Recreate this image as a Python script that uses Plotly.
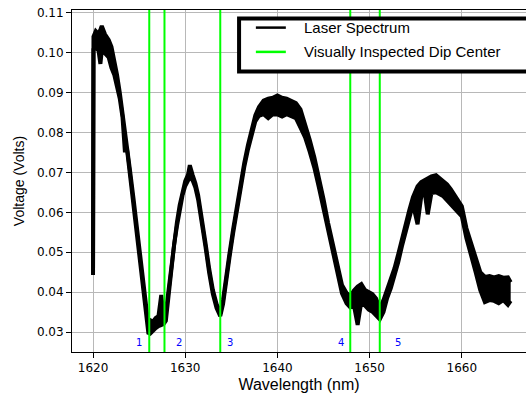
import plotly.graph_objects as go

# ---------------- data ----------------
wavelength = [1620.00, 1620.05, 1620.3, 1620.6, 1620.8, 1620.95, 1621.3, 1621.7, 1622.0, 1622.3,
              1622.6, 1622.9, 1623.2, 1623.45, 1623.7, 1624.0, 1624.4, 1624.8, 1625.2, 1625.5,
              1625.8, 1626.0, 1626.2, 1626.5, 1626.8, 1627.1, 1627.4, 1627.65, 1627.9, 1628.2,
              1628.5, 1628.8, 1629.1, 1629.4, 1629.7, 1630.0, 1630.3, 1630.5, 1630.8, 1631.1,
              1631.4, 1631.8, 1632.2, 1632.6, 1633.0, 1633.4, 1633.8, 1634.1, 1634.4, 1634.8,
              1635.2, 1635.6, 1636.0, 1636.4, 1636.8, 1637.2, 1637.6, 1638.0, 1638.5, 1639.0,
              1639.5, 1640.0, 1640.5, 1641.0, 1641.5, 1642.0, 1642.5, 1643.0, 1643.5, 1644.0,
              1644.5, 1645.0, 1645.5, 1646.0, 1646.5, 1647.0, 1647.5, 1647.9, 1648.3, 1648.7,
              1649.1, 1649.5, 1649.9, 1650.3, 1650.7, 1651.1, 1651.5, 1651.9, 1652.3, 1652.7,
              1653.1, 1653.5, 1653.9, 1654.3, 1654.7, 1655.2, 1655.6, 1656.0, 1656.3, 1656.7,
              1657.2, 1657.6, 1658.0, 1658.4, 1658.8, 1659.2, 1659.6, 1660.0, 1660.5, 1661.0,
              1661.5, 1662.0, 1662.5, 1663.0, 1663.5, 1664.0, 1664.5, 1665.0, 1665.3]

# upper and lower edge of the noisy voltage trace (Volts)
voltage_upper = [0.0445, 0.1040, 0.1054, 0.1047, 0.1058, 0.1067, 0.1046, 0.1032, 0.1015, 0.0982,
                 0.0945, 0.0900, 0.0850, 0.0805, 0.0768, 0.0707, 0.0633, 0.0553, 0.0477, 0.0408,
                 0.0350, 0.0318, 0.0330, 0.0326, 0.0335, 0.0340, 0.0393, 0.0345, 0.0350, 0.0410,
                 0.0475, 0.0530, 0.0575, 0.0618, 0.0652, 0.0678, 0.0694, 0.0718, 0.0694, 0.0673,
                 0.0643, 0.0588, 0.0523, 0.0458, 0.0405, 0.0370, 0.0347, 0.0380, 0.0435, 0.0497,
                 0.0558, 0.0618, 0.0673, 0.0723, 0.0768, 0.0808, 0.0843, 0.0864, 0.0880, 0.0885,
                 0.0887, 0.0893, 0.0887, 0.0885, 0.0880, 0.0874, 0.0858, 0.0822, 0.0782, 0.0738,
                 0.0688, 0.0633, 0.0573, 0.0518, 0.0463, 0.0418, 0.0398, 0.0390, 0.0404, 0.0414,
                 0.0420, 0.0405, 0.0400, 0.0395, 0.0384, 0.0360, 0.0380, 0.0405, 0.0430, 0.0460,
                 0.0495, 0.0535, 0.0570, 0.0605, 0.0638, 0.0665, 0.0676, 0.0682, 0.0686, 0.0690,
                 0.0693, 0.0686, 0.0680, 0.0670, 0.0658, 0.0645, 0.0630, 0.0615, 0.0560, 0.0525,
                 0.0482, 0.0450, 0.0438, 0.0440, 0.0437, 0.0440, 0.0436, 0.0437, 0.0425]

voltage_lower = [0.0443, 0.1008, 0.1012, 0.1005, 0.0972, 0.1005, 0.0998, 0.0988, 0.0962, 0.0945,
                 0.0915, 0.0885, 0.0838, 0.0755, 0.0755, 0.0697, 0.0623, 0.0543, 0.0467, 0.0398,
                 0.0340, 0.0298, 0.0296, 0.0305, 0.0310, 0.0315, 0.0318, 0.0320, 0.0328, 0.0400,
                 0.0465, 0.0520, 0.0565, 0.0607, 0.0642, 0.0666, 0.0680, 0.0688, 0.0680, 0.0662,
                 0.0632, 0.0578, 0.0513, 0.0448, 0.0395, 0.0360, 0.0340, 0.0370, 0.0425, 0.0487,
                 0.0548, 0.0608, 0.0663, 0.0713, 0.0757, 0.0796, 0.0828, 0.0842, 0.0846, 0.0836,
                 0.0846, 0.0845, 0.0840, 0.0846, 0.0840, 0.0836, 0.0812, 0.0788, 0.0752, 0.0712,
                 0.0662, 0.0607, 0.0552, 0.0497, 0.0442, 0.0397, 0.0372, 0.0362, 0.0366, 0.0318,
                 0.0376, 0.0366, 0.0356, 0.0351, 0.0341, 0.0332, 0.0350, 0.0385, 0.0410, 0.0440,
                 0.0475, 0.0515, 0.0550, 0.0585, 0.0620, 0.0570, 0.0640, 0.0645, 0.0595, 0.0648,
                 0.0650, 0.0645, 0.0640, 0.0630, 0.0620, 0.0608, 0.0600, 0.0590, 0.0535, 0.0495,
                 0.0450, 0.0405, 0.0375, 0.0380, 0.0378, 0.0372, 0.0380, 0.0368, 0.0378]

dip_centers = [1626.1, 1627.75, 1633.8, 1647.9, 1651.1]
dip_labels = ["1", "2", "3", "4", "5"]
dip_label_x = [1625.0, 1629.3, 1634.9, 1646.9, 1653.05]
dip_label_y = 0.0273

x_ticks = [1620, 1630, 1640, 1650, 1660]
y_ticks = [0.03, 0.04, 0.05, 0.06, 0.07, 0.08, 0.09, 0.10, 0.11]

legend_names = ["Laser Spectrum", "Visually Inspected Dip Center"]

# ---------------- figure ----------------
fig = go.Figure()

fig.add_trace(go.Scatter(x=wavelength, y=voltage_lower, mode="lines",
                         line=dict(color="black", width=4), showlegend=False,
                         hoverinfo="skip"))
fig.add_trace(go.Scatter(x=wavelength, y=voltage_upper, mode="lines",
                         line=dict(color="black", width=4), fill="tonexty",
                         fillcolor="black", showlegend=False, name=legend_names[0]))

for xc in dip_centers:
    fig.add_shape(type="line", x0=xc, x1=xc, xref="x", yref="paper", y0=0, y1=1,
                  line=dict(color="#00ff00", width=2), layer="above")

for lab, lx in zip(dip_labels, dip_label_x):
    fig.add_annotation(x=lx, y=dip_label_y, xref="x", yref="y", text=lab,
                       showarrow=False, font=dict(family="DejaVu Sans", size=10, color="#0000ff"))

# manual legend box (extends past the right edge as in the reference)
fig.add_shape(type="rect", xref="paper", yref="paper", x0=0.368, x1=1.08, y0=0.820, y1=0.975,
              line=dict(color="black", width=4), fillcolor="white", layer="above")
fig.add_shape(type="line", xref="paper", yref="paper", x0=0.405, x1=0.471, y0=0.9485, y1=0.9485,
              line=dict(color="black", width=2.5), layer="above")
fig.add_shape(type="line", xref="paper", yref="paper", x0=0.405, x1=0.471, y0=0.8775, y1=0.8775,
              line=dict(color="#00ff00", width=2.5), layer="above")
fig.add_annotation(xref="paper", yref="paper", x=0.506, y=0.9485, xanchor="left", yanchor="middle",
                   text=legend_names[0], showarrow=False,
                   font=dict(family="Liberation Sans", size=15, color="black"))
fig.add_annotation(xref="paper", yref="paper", x=0.506, y=0.8775, xanchor="left", yanchor="middle",
                   text=legend_names[1], showarrow=False,
                   font=dict(family="Liberation Sans", size=15, color="black"))

fig.update_layout(
    width=526, height=399,
    margin=dict(l=72, r=0, t=10, b=47),
    paper_bgcolor="white", plot_bgcolor="white",
    showlegend=False,
    xaxis=dict(range=[1617.72, 1666.96], tickvals=x_ticks, ticks="outside", ticklen=5,
               tickcolor="black", showline=True, linecolor="black", linewidth=1, mirror=True,
               showgrid=True, gridcolor="#b8b8b8", gridwidth=1, zeroline=False,
               tickfont=dict(family="DejaVu Sans", size=12, color="black"),
               title=dict(text="Wavelength (nm)", standoff=4,
                          font=dict(family="Liberation Sans", size=16, color="black"))),
    yaxis=dict(range=[0.02499, 0.1107], tickvals=y_ticks, tickformat=".2f", ticks="outside",
               ticklen=5, tickcolor="black", showline=True, linecolor="black", linewidth=1,
               showgrid=True, gridcolor="#b8b8b8", gridwidth=1, zeroline=False,
               tickfont=dict(family="DejaVu Sans", size=12, color="black"),
               title=dict(text="Voltage (Volts)", standoff=8,
                          font=dict(family="Liberation Sans", size=14, color="black"))),
)

fig.write_html("out.html")
